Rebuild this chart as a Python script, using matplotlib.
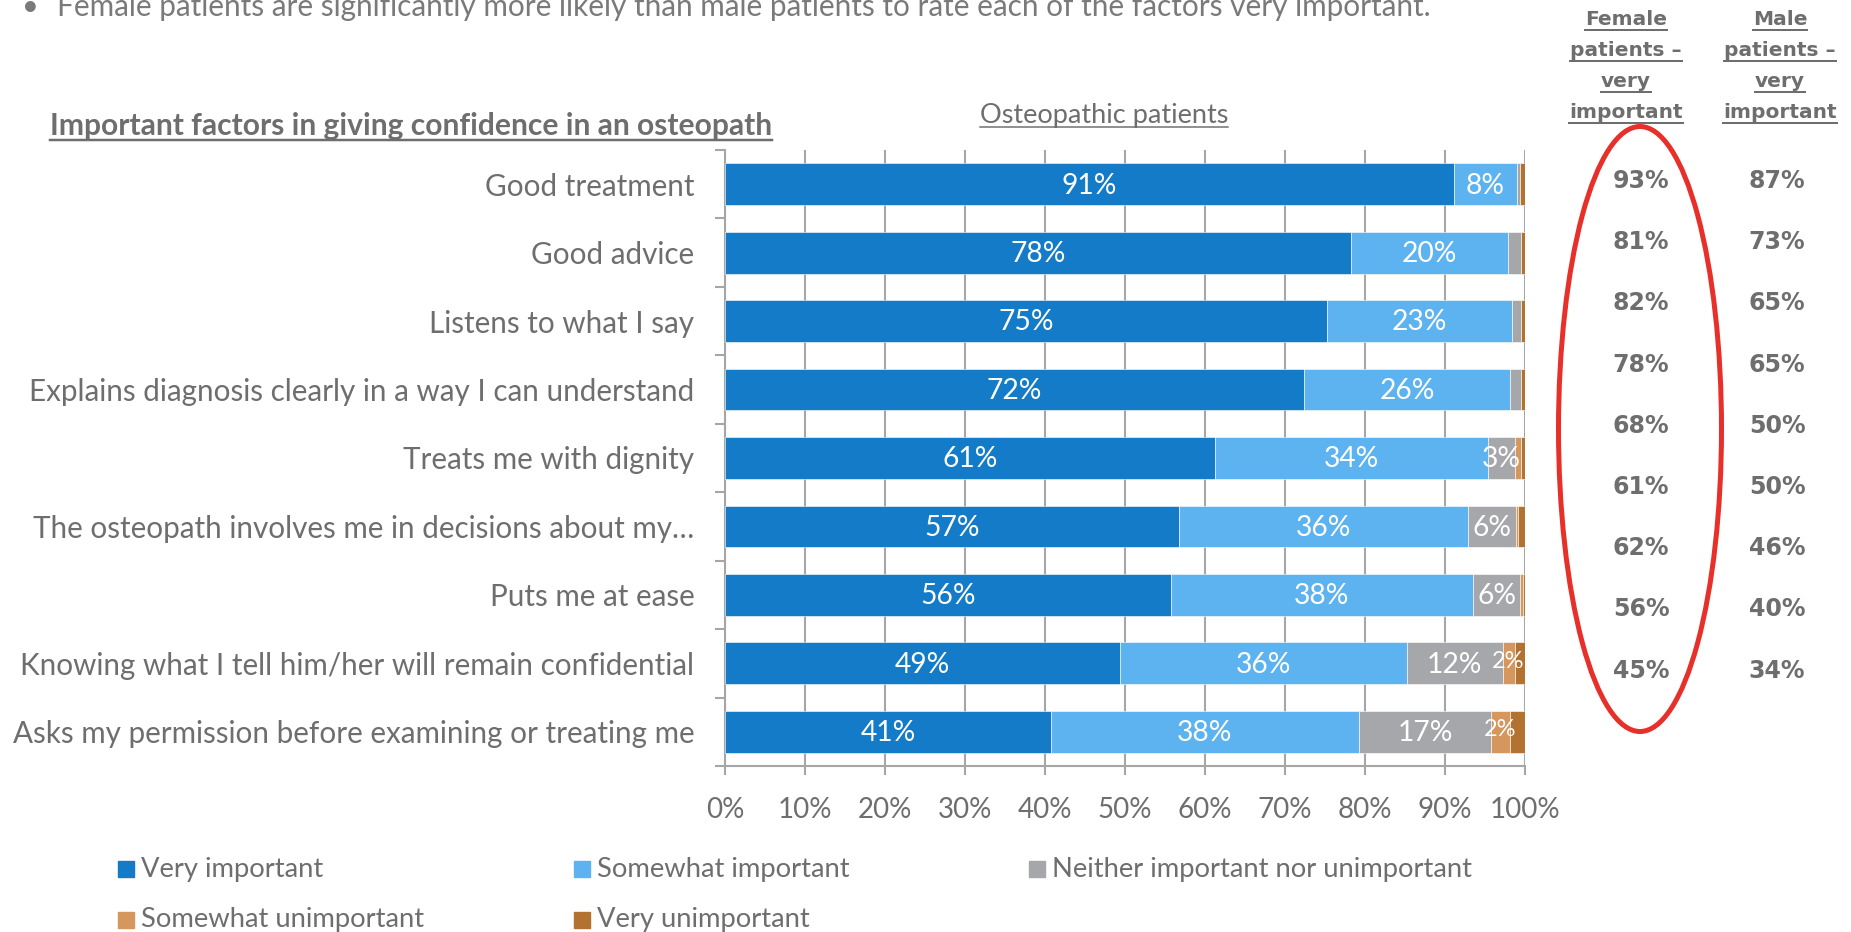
import numpy as np
import matplotlib
matplotlib.use("Agg")
import matplotlib.pyplot as plt
from matplotlib.patches import Ellipse, Rectangle
from matplotlib.lines import Line2D
from matplotlib.transforms import IdentityTransform

plt.rcParams["font.family"] = ["Lato", "DejaVu Sans"]

# data
factors = [
    "Good treatment",
    "Good advice",
    "Listens to what I say",
    "Explains diagnosis clearly in a way I can understand",
    "Treats me with dignity",
    "The osteopath involves me in decisions about my\u2026",
    "Puts me at ease",
    "Knowing what I tell him/her will remain confidential",
    "Asks my permission before examining or treating me",
]
series_names = [
    "Very important",
    "Somewhat important",
    "Neither important nor unimportant",
    "Somewhat unimportant",
    "Very unimportant",
]
very_important = [91.1, 78.2, 75.2, 72.4, 61.2, 56.8, 55.7, 49.4, 40.8]
somewhat_important = [7.9, 19.7, 23.2, 25.7, 34.2, 36.1, 37.8, 35.8, 38.4]
neither = [0.4, 1.6, 1.1, 1.4, 3.4, 6.0, 5.9, 12.0, 16.6]
somewhat_unimportant = [0.0, 0.0, 0.0, 0.0, 0.7, 0.2, 0.3, 1.5, 2.3]
very_unimportant = [0.6, 0.5, 0.5, 0.5, 0.5, 0.9, 0.3, 1.3, 1.9]
female_very = [93, 81, 82, 78, 68, 61, 62, 56, 45]
male_very = [87, 73, 65, 65, 50, 50, 46, 40, 34]
x_ticks = list(range(0, 101, 10))

colors = ["#137BC7", "#5CB3EF", "#A6A7AB", "#D5975D", "#B17232"]
label_min = [0, 0, 2.5, 1.4, 999]   # smallest segment that still gets a label
grey = "#6E6E6E"
axis_grey = "#A6A6A6"

W, H = 1851, 932
fig = plt.figure(figsize=(W / 100, H / 100), dpi=100)


def fx(x):
    return x / W


def fy(y):
    return 1 - y / H


ax = fig.add_axes([fx(725), fy(766), 800 / W, 616 / H])

values = [very_important, somewhat_important, neither, somewhat_unimportant, very_unimportant]
ypos = np.arange(len(factors))
left = np.zeros(len(factors))
for k, vals in enumerate(values):
    vals = np.array(vals)
    ax.barh(ypos, vals, left=left, height=0.61, color=colors[k],
            edgecolor="white", linewidth=0.4, zorder=3)
    for i, v in enumerate(vals):
        if v >= label_min[k] and v > 0:
            small = k == 3
            ax.text(left[i] + v / 2, i - (0.03 if small else -0.02), f"{int(v + 0.5)}%",
                    ha="center", va="center", color="white",
                    fontsize=17 if small else 20.3, zorder=4)
    left += vals

ax.set_xlim(0, 100)
ax.set_ylim(len(factors) - 0.5, -0.5)
ax.set_xticks(x_ticks)
ax.set_xticklabels([f"{t}%" for t in x_ticks])
ax.set_yticks(np.arange(-0.5, len(factors), 1))
ax.set_yticklabels([])
ax.set_yticks(ypos, minor=True)
ax.set_yticklabels(factors, minor=True)
ax.tick_params(axis="y", which="major", length=7.2, width=1.5, color=axis_grey)
ax.tick_params(axis="y", which="minor", length=0, pad=22, labelsize=21.3, labelcolor=grey)
ax.tick_params(axis="x", length=6.5, width=1.5, color=axis_grey, pad=15.5,
               labelsize=20, labelcolor=grey)
ax.grid(axis="x", color=axis_grey, linewidth=1.5, zorder=0)
ax.set_axisbelow(True)
for s in ["top", "right"]:
    ax.spines[s].set_visible(False)
for s in ["left", "bottom"]:
    ax.spines[s].set_color(axis_grey)
    ax.spines[s].set_linewidth(1.5)

# header texts
fig.text(fx(22), fy(15), "\u2022", fontsize=21, color="#7A7A7A", va="baseline")
fig.text(fx(57), fy(16),
         "Female patients are significantly more likely than male patients to rate each of the factors very important.",
         fontsize=21.4, color="#7A7A7A", va="baseline")

underlined = []
t = fig.text(fx(50), fy(135), "Important factors in giving confidence in an osteopath",
             fontsize=21.6, fontweight="bold", color=grey, va="baseline")
underlined.append((t, 139.5, 2.5))
t = fig.text(fx(1104), fy(123), "Osteopathic patients", fontsize=19.5, color=grey,
             ha="center", va="baseline")
underlined.append((t, 127, 1.5))

for cx, lines in [(1626, ["Female", "patients \u2013", "very", "important"]),
                  (1780, ["Male", "patients \u2013", "very", "important"])]:
    for j, line in enumerate(lines):
        base = 25 + j * 31.1
        t = fig.text(fx(cx), fy(base), line, fontsize=14.5, fontweight="bold",
                     family="DejaVu Sans", color=grey, ha="center", va="baseline")
        underlined.append((t, base + 4.5, 2))

# right-hand columns
for i in range(len(factors)):
    yy = 181 + i * 61.2
    fig.text(fx(1641), fy(yy), f"{female_very[i]}%", fontsize=17, fontweight="bold",
             family="DejaVu Sans", color=grey, ha="center", va="center")
    fig.text(fx(1777), fy(yy), f"{male_very[i]}%", fontsize=17, fontweight="bold",
             family="DejaVu Sans", color=grey, ha="center", va="center")

fig.add_artist(Ellipse((fx(1640), fy(429)), 163 / W, 605 / H, transform=fig.transFigure,
                       fill=False, edgecolor="#E8302A", linewidth=3.6))

# legend
for k, name in enumerate(series_names):
    x0 = 118 + (k % 3) * 455.5
    y0 = 869 + (k // 3) * 51
    fig.add_artist(Rectangle((fx(x0), fy(y0 + 8)), 16 / W, 16 / H,
                             transform=fig.transFigure, color=colors[k]))
    fig.text(fx(x0 + 23), fy(y0), name, fontsize=19.7, color=grey, va="center")

fig.canvas.draw()
renderer = fig.canvas.get_renderer()
for t, uy, lw in underlined:
    bb = t.get_window_extent(renderer)
    fig.add_artist(Line2D([bb.x0, bb.x1], [H - uy, H - uy], transform=IdentityTransform(),
                          color=grey, linewidth=lw * 0.72))

fig.savefig("out.png", dpi=100)
